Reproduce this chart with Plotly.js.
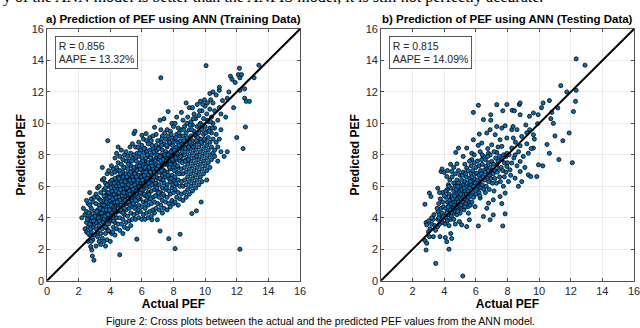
<!DOCTYPE html>
<html><head><meta charset="utf-8">
<script src="https://cdn.plot.ly/plotly-3.0.1.min.js"></script>
<style>html,body{margin:0;padding:0;background:#fff}#chart{width:640px;height:328px}</style>
</head><body><div id="chart"></div>
<script>
// Training data: [Actual PEF, Predicted PEF]
const trainData = [
[2.2,4.0],[2.3,4.6],[2.4,3.3],[2.4,4.2],[2.5,3.1],[2.5,3.7],[2.5,4.4],[2.6,2.5],[2.6,3.4],[2.6,4.0],[2.6,4.9],[2.7,5.6],[2.7,2.9],[2.7,3.6],[2.7,4.3],[2.76,2.17],[2.8,3.1],[2.8,3.8],[2.8,4.6],[2.8,5.2],[2.83,1.95],[2.87,1.57],[2.9,2.6],[2.9,3.4],[2.9,4.1],[2.9,5.0],[2.97,1.3],[3.0,2.9],[3.0,3.6],[3.0,4.4],[3.0,5.3],[2.6,3.0],[2.7,4.8],[2.8,2.5],[2.5,5.1],
[3.1,2.2],[3.1,3.3],[3.1,4.0],[3.1,4.9],[3.1,5.5],[3.2,2.8],[3.2,3.7],[3.2,4.5],[3.2,5.9],[3.2,3.1],[3.3,2.5],[3.3,3.5],[3.3,4.2],[3.3,5.2],[3.3,6.0],[3.4,3.0],[3.4,3.9],[3.4,4.7],[3.4,5.6],[3.4,2.3],[3.5,3.3],[3.5,4.1],[3.5,5.0],[3.5,6.4],[3.5,7.2],[3.5,2.7],[3.2,4.1],[3.3,4.8],[3.4,4.4],[3.1,3.7],[3.3,3.8],[3.5,4.6],[3.4,5.1],[3.2,5.3],
[3.6,2.5],[3.6,3.5],[3.6,4.3],[3.6,5.1],[3.6,5.8],[3.6,6.5],[3.7,3.0],[3.7,3.9],[3.7,4.7],[3.7,5.4],[3.7,6.2],[3.7,2.2],[3.8,3.3],[3.8,4.0],[3.8,4.9],[3.8,5.6],[3.8,6.8],[3.8,2.6],[3.9,3.6],[3.9,4.4],[3.9,5.2],[3.9,6.0],[3.9,7.0],[3.84,8.9],[4.0,3.1],[4.0,3.9],[4.0,4.6],[4.0,5.5],[4.0,6.3],[4.07,7.3],[3.6,4.8],[3.7,4.2],[3.8,4.5],[3.9,4.9],[4.0,5.1],[3.7,5.9],[3.8,5.2],[3.9,3.9],[3.6,3.9],[4.0,2.5],[3.8,6.1],[3.9,5.6],[3.7,3.4],[3.6,5.4],[4.0,4.2],[3.88,3.18],
[4.1,3.0],[4.1,3.8],[4.1,4.5],[4.1,5.3],[4.1,6.0],[4.1,6.8],[4.2,3.4],[4.2,4.2],[4.2,4.9],[4.2,5.7],[4.2,6.4],[4.2,7.1],[4.3,2.9],[4.3,3.7],[4.3,4.6],[4.3,5.4],[4.3,6.1],[4.3,6.9],[4.3,7.8],[4.4,3.3],[4.4,4.0],[4.4,4.8],[4.4,5.6],[4.4,6.3],[4.4,7.2],[4.4,8.1],[4.5,3.6],[4.5,4.4],[4.5,5.1],[4.5,5.9],[4.5,6.6],[4.5,7.5],[4.5,8.5],[4.1,4.9],[4.2,5.3],[4.3,5.0],[4.4,5.2],[4.5,4.8],[4.2,6.0],[4.3,4.2],[4.4,6.0],[4.1,5.7],[4.3,6.5],[4.5,5.5],[4.2,3.8],[4.4,4.4],[4.1,6.4],[4.16,3.1],[4.5,7.0],
[4.6,1.65],[4.6,3.2],[4.6,4.0],[4.6,4.8],[4.6,5.5],[4.6,6.3],[4.6,7.0],[4.6,7.9],[4.7,3.6],[4.7,4.4],[4.7,5.2],[4.7,5.9],[4.7,6.7],[4.7,7.4],[4.7,8.3],[4.8,3.0],[4.8,3.9],[4.8,4.7],[4.8,5.4],[4.8,6.2],[4.8,6.9],[4.8,7.7],[4.9,3.4],[4.9,4.2],[4.9,5.0],[4.9,5.7],[4.9,6.5],[4.9,7.2],[4.9,8.0],[5.0,3.7],[5.0,4.5],[5.0,5.3],[5.0,6.0],[5.0,6.8],[5.0,7.6],[5.0,8.2],[4.6,5.1],[4.7,4.8],[4.8,5.8],[4.9,5.4],[5.0,5.6],[4.6,6.0],[4.7,6.3],[4.8,4.3],[4.9,6.1],[5.0,4.9],[4.8,6.6],[4.7,5.6],[4.9,4.6],
[5.1,3.3],[5.1,4.1],[5.1,4.9],[5.1,5.6],[5.1,6.4],[5.1,7.1],[5.1,7.9],[5.2,3.8],[5.2,4.6],[5.2,5.3],[5.2,6.1],[5.2,6.8],[5.2,7.6],[5.25,8.5],[5.3,3.5],[5.3,4.3],[5.3,5.0],[5.3,5.8],[5.3,6.5],[5.3,7.3],[5.3,8.1],[5.4,3.9],[5.4,4.7],[5.4,5.5],[5.4,6.2],[5.4,7.0],[5.4,7.8],[5.4,8.7],[5.5,4.2],[5.5,5.0],[5.5,5.7],[5.5,6.5],[5.5,7.2],[5.5,8.0],[5.5,9.35],[5.57,9.5],[5.1,5.9],[5.2,5.7],[5.3,6.2],[5.4,5.9],[5.5,6.0],[5.2,6.5],[5.3,5.4],[5.4,6.6],[5.1,5.2],[5.5,5.4],[5.3,6.9],[5.2,4.9],[5.4,5.1],[5.5,6.8],
[5.6,3.9],[5.6,4.7],[5.6,5.4],[5.6,6.2],[5.6,6.9],[5.6,7.7],[5.6,8.5],[5.68,2.64],[5.7,4.3],[5.7,5.1],[5.7,5.8],[5.7,6.6],[5.7,7.3],[5.7,8.1],[5.76,8.47],[5.8,4.0],[5.8,4.8],[5.8,5.6],[5.8,6.3],[5.8,7.1],[5.8,7.9],[5.8,8.8],[5.9,4.4],[5.9,5.2],[5.9,6.0],[5.9,6.7],[5.9,7.5],[5.9,8.3],[6.0,9.24],[6.0,3.9],[6.0,4.7],[6.0,5.5],[6.0,6.3],[6.0,7.0],[6.0,7.8],[6.0,8.6],[5.6,5.9],[5.7,6.2],[5.8,6.0],[5.9,6.4],[6.0,6.0],[5.6,6.5],[5.7,5.5],[5.8,6.7],[5.9,5.6],[6.0,6.6],[5.8,5.2],[5.7,7.0],[5.6,5.1],[5.9,7.1],
[6.1,4.2],[6.1,5.0],[6.1,5.8],[6.1,6.5],[6.1,7.3],[6.1,8.1],[6.1,9.0],[6.2,3.9],[6.2,4.6],[6.2,5.4],[6.2,6.1],[6.2,6.9],[6.2,7.6],[6.2,8.4],[6.27,9.35],[6.3,4.3],[6.3,5.1],[6.3,5.9],[6.3,6.6],[6.3,7.4],[6.3,8.2],[6.3,8.9],[6.4,4.0],[6.4,4.8],[6.4,5.6],[6.4,6.3],[6.4,7.1],[6.4,7.9],[6.4,8.7],[6.5,4.4],[6.5,5.2],[6.5,6.0],[6.5,6.8],[6.5,7.5],[6.5,8.3],[6.5,9.1],[6.1,6.2],[6.2,6.5],[6.3,7.0],[6.4,6.7],[6.5,6.4],[6.1,6.9],[6.3,6.3],[6.4,7.5],[6.2,7.2],[6.5,7.1],[6.63,3.87],
[6.6,4.1],[6.6,4.9],[6.6,5.7],[6.6,6.4],[6.6,7.2],[6.6,8.0],[6.6,8.9],[6.7,4.5],[6.7,5.3],[6.7,6.1],[6.7,6.8],[6.7,7.6],[6.7,8.4],[6.7,9.2],[6.8,4.3],[6.8,5.0],[6.8,5.8],[6.8,6.6],[6.8,7.3],[6.8,8.1],[6.8,9.75],[6.9,4.6],[6.9,5.4],[6.9,6.2],[6.9,7.0],[6.9,7.8],[6.9,8.6],[6.98,3.87],[7.0,4.9],[7.0,5.7],[7.0,6.5],[7.0,7.2],[7.0,8.0],[7.0,8.9],[6.6,6.8],[6.7,7.1],[6.8,6.9],[6.9,7.4],[7.0,6.9],[6.7,6.4],[6.8,7.7],[6.9,6.6],[6.6,7.5],[6.9,9.3],
[7.1,4.5],[7.1,5.3],[7.1,6.1],[7.1,6.9],[7.1,7.7],[7.1,8.5],[7.15,10.2],[7.15,3.16],[7.2,4.8],[7.2,5.6],[7.2,6.4],[7.2,7.2],[7.2,8.0],[7.2,8.8],[7.2,12.9],[7.3,4.3],[7.3,5.1],[7.3,5.9],[7.3,6.7],[7.3,7.5],[7.3,8.3],[7.3,9.2],[7.4,4.6],[7.4,5.4],[7.4,6.2],[7.4,7.0],[7.4,7.8],[7.4,8.7],[7.4,10.3],[7.5,5.0],[7.5,5.8],[7.5,6.6],[7.5,7.4],[7.5,8.2],[7.5,9.0],[7.1,7.3],[7.2,7.6],[7.3,7.1],[7.4,7.4],[7.5,7.8],[7.2,9.6],
[7.6,4.5],[7.6,5.3],[7.6,6.1],[7.6,6.9],[7.6,7.7],[7.6,8.5],[7.6,9.6],[7.7,2.67],[7.7,4.9],[7.7,5.7],[7.7,6.5],[7.7,7.3],[7.7,8.1],[7.7,8.9],[7.66,10.75],[7.8,4.7],[7.8,5.5],[7.8,6.3],[7.8,7.1],[7.8,7.9],[7.8,8.7],[7.8,9.5],[7.9,5.1],[7.9,5.9],[7.9,6.7],[7.9,7.5],[7.9,8.3],[7.9,9.1],[7.9,10.0],[8.0,4.9],[8.0,5.6],[8.0,6.4],[8.0,7.2],[8.0,8.0],[8.0,8.8],[8.0,9.8],[7.7,7.6],[7.8,7.4],[7.9,7.9],[8.0,7.6],
[8.1,2.04],[8.1,5.0],[8.1,5.8],[8.1,6.6],[8.1,7.4],[8.1,8.2],[8.1,9.0],[8.1,10.0],[8.2,5.3],[8.2,6.1],[8.2,6.9],[8.2,7.7],[8.2,8.5],[8.2,9.3],[8.2,10.4],[8.3,4.8],[8.3,5.6],[8.3,6.4],[8.3,7.2],[8.3,8.0],[8.3,8.8],[8.3,9.7],[8.4,5.2],[8.4,6.0],[8.4,6.8],[8.4,7.6],[8.4,8.4],[8.4,9.2],[8.42,2.95],[8.5,5.5],[8.5,6.3],[8.5,7.1],[8.5,7.9],[8.5,8.7],[8.5,9.6],[8.5,10.7],
[8.6,5.1],[8.6,6.0],[8.6,6.8],[8.6,7.6],[8.6,8.4],[8.6,9.2],[8.6,10.2],[8.7,5.6],[8.7,6.4],[8.7,7.2],[8.7,8.0],[8.7,8.8],[8.7,9.8],[8.8,5.3],[8.8,6.1],[8.8,6.9],[8.8,7.7],[8.8,8.5],[8.8,9.4],[8.8,11.3],[8.9,5.8],[8.9,6.6],[8.9,7.4],[8.9,8.2],[8.9,9.0],[8.9,10.4],[9.0,5.5],[9.0,6.3],[9.0,7.1],[9.0,7.9],[9.0,8.7],[9.0,9.6],[9.0,11.0],
[9.1,6.0],[9.1,6.8],[9.1,7.6],[9.1,8.4],[9.1,9.2],[9.1,10.1],[9.16,4.27],[9.2,5.7],[9.2,6.5],[9.2,7.3],[9.2,8.1],[9.2,8.9],[9.2,9.9],[9.2,11.0],[9.3,6.2],[9.3,7.0],[9.3,7.8],[9.3,8.6],[9.3,9.5],[9.3,10.6],[9.4,5.9],[9.4,6.7],[9.4,7.5],[9.4,8.3],[9.4,9.2],[9.4,10.3],[9.45,4.44],[9.5,6.4],[9.5,7.2],[9.5,8.0],[9.5,8.8],[9.5,9.8],[9.5,11.2],
[9.6,6.1],[9.6,6.9],[9.6,7.7],[9.6,8.5],[9.6,9.4],[9.6,10.5],[9.7,6.6],[9.7,7.4],[9.7,8.2],[9.7,9.0],[9.7,10.0],[9.7,11.4],[9.75,5.0],[9.8,6.3],[9.8,7.1],[9.8,7.9],[9.8,8.7],[9.8,9.6],[9.8,10.8],[9.9,6.8],[9.9,7.6],[9.9,8.4],[9.9,9.3],[9.9,10.3],[9.96,11.5],[10.0,7.3],[10.0,8.1],[10.0,8.9],[10.0,9.8],[10.0,11.1],
[10.06,13.67],[10.1,6.4],[10.1,7.0],[10.1,7.8],[10.1,8.6],[10.1,9.5],[10.1,10.6],[10.2,7.5],[10.2,8.3],[10.2,9.1],[10.2,10.1],[10.3,11.9],[10.3,7.2],[10.3,8.0],[10.3,8.8],[10.3,9.7],[10.3,10.9],[10.4,7.7],[10.4,8.5],[10.4,9.4],[10.4,10.4],[10.5,12.0],[10.5,8.1],[10.5,9.0],[10.5,10.0],[10.5,11.3],
[10.6,7.9],[10.6,8.3],[10.6,9.7],[10.6,10.8],[10.7,8.8],[10.7,9.3],[10.7,11.8],[10.8,7.6],[10.8,8.5],[10.8,10.2],[10.9,9.0],[10.9,11.0],[10.9,12.1],[10.9,12.3],[11.0,8.2],[11.0,9.6],[11.0,10.6],
[11.1,11.45],[11.2,7.9],[11.3,10.4],[11.4,8.2],[11.4,11.6],[11.5,12.0],[11.6,13.0],[11.7,12.8],[11.8,11.0],[11.9,12.6],[12.0,9.1],[12.1,13.1],[12.17,13.5],[12.2,12.1],[12.2,12.9],[12.2,2.0],[12.3,13.1],[12.4,8.4],[12.5,11.6],[12.5,12.2],[12.55,9.77],[12.6,11.4],[12.8,11.4],[13.1,12.9],[13.4,13.7],
[2.55,3.9],[2.65,4.3],[2.75,3.3],[2.85,4.0],[2.95,3.8],[3.05,4.1],[3.15,4.4],[3.25,4.0],[3.35,4.6],[3.45,4.3],
[3.55,4.5],[3.65,4.1],[3.75,5.0],[3.85,4.2],[3.95,5.3],[3.55,3.7],[3.75,4.5],[3.95,4.5],
[4.05,4.8],[4.15,5.2],[4.25,4.5],[4.35,5.3],[4.45,5.8],[4.05,5.9],[4.15,4.1],[4.25,6.2],[4.35,4.4],[4.45,5.0],[4.25,5.5],[4.35,5.7],
[4.55,5.6],[4.65,4.5],[4.75,5.4],[4.85,5.0],[4.95,6.3],[4.55,6.5],[4.65,5.8],[4.75,6.1],[4.85,5.6],[4.95,5.1],[4.65,6.8],[4.85,7.2],
[5.05,5.9],[5.15,6.1],[5.25,5.5],[5.35,6.0],[5.45,5.8],[5.05,6.6],[5.15,5.0],[5.25,6.4],[5.35,5.3],[5.45,6.4],[5.15,7.4],[5.35,7.6],[5.25,4.8],[5.45,4.9],
[5.55,6.1],[5.65,5.7],[5.75,6.4],[5.85,5.9],[5.95,6.6],[5.55,6.8],[5.65,6.6],[5.75,5.3],[5.85,7.3],[5.95,5.8],[5.65,7.6],[5.85,8.1],[5.55,4.6],[5.75,4.5],
[6.05,6.4],[6.15,6.7],[6.25,6.9],[6.35,6.5],[6.45,7.2],[6.05,7.6],[6.15,5.5],[6.25,7.8],[6.35,5.4],[6.45,6.2],[6.15,8.4],[6.35,8.0],[6.25,4.9],[6.45,5.5],
[6.55,6.9],[6.65,7.3],[6.75,6.6],[6.85,7.6],[6.95,7.1],[6.55,7.8],[6.65,6.1],[6.75,8.2],[6.85,6.2],[6.95,8.3],[6.65,8.6],[6.85,5.4],[6.55,5.2],[6.95,5.9],
[7.05,7.3],[7.15,7.9],[7.25,7.0],[7.35,7.7],[7.45,8.0],[7.05,8.4],[7.15,6.5],[7.25,8.6],[7.35,6.4],[7.45,6.8],[7.25,9.0],[7.45,9.4],[7.05,5.6],[7.35,5.5],
[7.55,7.6],[7.65,8.0],[7.75,7.2],[7.85,8.2],[7.95,7.7],[7.55,8.6],[7.65,6.7],[7.75,8.8],[7.85,6.5],[7.95,8.6],[7.65,9.2],[7.85,9.3],[7.55,5.9],[7.95,6.1],
[8.05,8.3],[8.15,7.8],[8.25,8.1],[8.35,8.6],[8.45,7.9],[8.05,7.0],[8.15,9.1],[8.25,7.3],[8.35,9.4],[8.45,8.9],[8.15,6.2],[8.35,6.8],
[8.55,8.2],[8.65,8.9],[8.75,8.4],[8.85,9.1],[8.95,8.5],[8.55,7.5],[8.65,9.6],[8.75,7.6],[8.85,10.0],[8.95,7.7],
[9.05,8.8],[9.15,9.6],[9.25,8.5],[9.35,9.3],[9.45,8.9],[9.05,9.9],[9.25,10.3],[9.45,7.9],
[9.55,9.1],[9.65,9.9],[9.75,8.8],[9.85,9.9],[9.95,9.0],[9.65,10.8],[9.85,11.2],
[10.05,9.4],[10.15,10.2],[10.25,9.5],[10.35,10.1],[10.45,9.7],[10.15,11.3],[10.35,11.5]
];

// Testing data: [Actual PEF, Predicted PEF]
const testData = [
[2.78,4.86],[3.06,5.57],[3.16,5.35],[2.85,3.7],[3.02,3.8],[2.89,3.55],[2.78,2.55],[2.85,1.95],[2.89,2.38],[3.06,2.8],[3.31,2.8],[3.46,1.1],[3.1,3.3],[3.2,3.6],[3.3,3.9],[3.4,3.5],[3.0,3.1],[3.35,4.2],[3.45,3.2],[3.2,4.0],
[3.59,3.44],[3.73,2.8],[3.6,3.9],[3.6,4.4],[3.65,4.9],[3.7,3.6],[3.7,4.2],[3.75,5.2],[3.8,3.9],[3.8,4.6],[3.8,6.94],[3.85,4.3],[3.9,3.7],[3.9,5.0],[3.9,5.6],[3.59,5.88],[3.95,4.1],[3.95,4.7],[3.99,6.88],[3.86,7.1],[3.7,5.6],[3.65,4.0],[3.55,4.6],
[4.07,2.74],[4.16,2.48],[4.3,2.0],[4.41,3.0],[4.47,2.68],[4.05,3.6],[4.1,4.0],[4.1,4.6],[4.1,5.3],[4.16,6.62],[4.2,3.8],[4.2,4.4],[4.2,5.0],[4.2,5.8],[4.26,6.1],[4.3,3.5],[4.3,4.2],[4.3,4.8],[4.3,5.5],[4.35,6.4],[4.4,3.9],[4.4,4.5],[4.4,5.2],[4.4,5.9],[4.45,4.1],[4.47,6.94],[4.5,4.7],[4.5,5.4],[4.5,6.6],[4.15,4.3],[4.25,4.7],[4.35,5.1],[4.45,4.9],[4.1,5.7],[4.3,6.0],[4.2,7.0],[4.4,7.4],[4.0,5.4],
[4.58,4.61],[4.6,3.9],[4.6,4.3],[4.6,5.0],[4.6,5.7],[4.6,6.2],[4.65,4.8],[4.7,3.6],[4.7,4.4],[4.7,5.3],[4.7,6.0],[4.73,8.15],[4.75,5.0],[4.8,4.2],[4.8,4.7],[4.8,5.5],[4.8,6.4],[4.8,7.43],[4.85,5.2],[4.9,4.5],[4.9,5.0],[4.9,5.8],[4.9,6.2],[4.9,8.43],[4.96,3.76],[4.95,4.8],[5.0,4.29],[5.0,5.3],[5.0,6.0],[5.0,6.7],[4.65,5.4],[4.75,5.8],[4.85,6.0],[4.95,5.6],[4.55,5.2],[4.7,6.8],[4.6,7.2],[4.85,4.4],[4.9,7.0],
[5.1,3.55],[5.17,0.3],[5.2,7.9],[5.42,3.44],[5.42,7.16],[5.42,8.43],[5.05,4.8],[5.1,5.2],[5.1,5.8],[5.1,6.4],[5.15,4.6],[5.2,5.0],[5.2,5.5],[5.2,6.1],[5.2,6.9],[5.25,4.5],[5.3,5.2],[5.3,5.7],[5.3,6.3],[5.3,7.4],[5.35,4.9],[5.4,5.5],[5.4,6.0],[5.4,6.6],[5.45,5.1],[5.5,4.7],[5.5,5.7],[5.5,6.2],[5.5,7.0],[5.15,6.7],[5.25,5.9],[5.35,6.8],[5.45,6.2],[5.05,5.5],[5.3,4.7],
[5.53,4.29],[5.59,3.87],[5.74,8.1],[5.74,7.7],[5.84,10.7],[5.84,8.96],[5.95,4.71],[5.55,5.3],[5.6,5.0],[5.6,5.9],[5.6,6.5],[5.65,4.8],[5.7,5.4],[5.7,6.1],[5.7,6.8],[5.7,7.3],[5.75,5.0],[5.8,5.6],[5.8,6.3],[5.8,7.0],[5.85,5.3],[5.9,5.9],[5.9,6.5],[5.9,7.5],[5.95,6.2],[6.0,5.5],[6.0,6.8],[6.0,7.2],[5.65,6.3],[5.75,6.6],[5.85,6.0],[5.6,7.6],[5.9,8.0],
[6.06,6.84],[6.16,11.15],[6.16,3.48],[6.22,9.32],[6.27,5.25],[6.27,8.2],[6.37,8.75],[6.37,7.7],[6.48,10.24],[6.48,4.08],[6.05,5.8],[6.1,6.4],[6.1,7.6],[6.15,6.0],[6.2,5.6],[6.2,6.7],[6.2,7.3],[6.25,6.2],[6.3,5.9],[6.3,6.5],[6.3,7.0],[6.35,6.8],[6.4,6.1],[6.4,7.4],[6.45,6.6],[6.5,5.8],[6.5,7.0],[6.5,7.9],[6.15,8.6],[6.4,8.0],[6.25,5.4],
[6.63,7.26],[6.69,9.39],[6.69,4.6],[6.8,8.1],[6.8,4.93],[6.9,9.6],[6.9,3.87],[6.94,10.55],[6.94,10.2],[6.55,6.4],[6.6,6.9],[6.6,7.7],[6.65,6.0],[6.7,6.6],[6.7,7.1],[6.75,8.4],[6.8,6.3],[6.8,7.0],[6.8,7.5],[6.85,6.7],[6.9,7.2],[6.9,8.0],[6.95,6.5],[7.0,7.0],[7.0,7.58],[7.0,8.64],[6.6,5.6],[6.85,5.8],[6.75,7.9],
[7.1,4.18],[7.1,5.14],[7.22,9.28],[7.32,11.19],[7.32,9.8],[7.32,8.15],[7.32,7.37],[7.05,6.2],[7.1,6.8],[7.1,7.4],[7.15,8.2],[7.2,6.5],[7.2,7.0],[7.25,7.8],[7.3,6.2],[7.35,6.9],[7.4,7.6],[7.4,8.5],[7.45,7.1],[7.5,6.6],[7.5,7.9],[7.53,5.35],[7.53,8.96],[7.15,5.7],
[7.64,9.7],[7.64,8.54],[7.64,7.7],[7.64,4.9],[7.7,3.48],[7.7,10.8],[7.74,6.0],[7.85,9.85],[7.85,5.57],[7.85,4.25],[7.96,11.2],[7.96,9.07],[7.96,8.1],[7.96,7.26],[7.6,7.2],[7.7,7.0],[7.75,8.0],[7.8,7.5],[7.8,6.6],[7.9,7.9],[7.9,6.9],[8.0,7.5],[7.55,6.3],
[8.06,6.3],[8.16,7.05],[8.27,9.6],[8.27,8.43],[8.27,7.48],[8.3,10.83],[8.37,9.07],[8.44,10.8],[8.48,8.0],[8.48,6.52],[8.6,9.6],[8.69,6.0],[8.75,11.2],[8.8,11.3],[8.8,10.55],[8.8,8.58],[8.8,7.58],[8.8,6.94],[8.9,9.17],[8.9,6.3],[8.1,8.0],[8.2,6.7],[8.4,7.8],[8.5,8.8],[8.6,7.3],[8.7,8.2],[8.35,9.8],
[9.0,7.9],[9.16,9.9],[9.22,9.4],[9.22,8.7],[9.32,8.1],[9.32,6.73],[9.39,10.45],[9.47,6.62],[9.64,10.66],[9.64,9.28],[9.64,8.43],[9.85,6.62],[9.9,9.98],[9.94,10.55],[9.96,7.37],[9.5,8.4],[9.1,7.2],[9.7,9.0],[9.4,9.6],
[10.15,11.0],[10.23,7.3],[10.25,11.3],[10.5,8.66],[10.65,11.45],[10.65,8.1],[10.74,10.3],[10.8,10.7],[10.9,10.0],[11.0,9.2],[11.18,10.98],[11.25,7.7],[11.37,12.4],[11.5,8.9],[11.75,12.0],[11.9,9.39],[12.1,7.5],[12.17,10.75],[12.3,11.4],[12.34,12.1],[12.34,14.1],[12.9,13.7]
];

const trainActual = trainData.map(p => p[0]);
const trainPred   = trainData.map(p => p[1]);
const testActual  = testData.map(p => p[0]);
const testPred    = testData.map(p => p[1]);

const diagonal  = [0, 16];
const tickVals  = [0, 2, 4, 6, 8, 10, 12, 14, 16];
const panelTitles = ['a) Prediction of PEF using ANN (Training Data)', 'b) Prediction of PEF using ANN (Testing Data)'];
const statR     = ['0.856', '0.815'];
const statAAPE  = ['13.32%', '14.09%'];
const xTitle = 'Actual PEF';
const yTitle = 'Predicted PEF';
const caption = 'Figure 2: Cross plots between the actual and the predicted PEF values from the ANN model.';
const topLine = 'y of the ANN model is better than the ANFIS model, it is still not perfectly accurate.';

const FONT = 'Liberation Sans, Arial, Helvetica, sans-serif';
const INK = '#262626';

function scatterTrace(x, y, xa, ya) {
  return { x, y, xaxis: xa, yaxis: ya, type: 'scatter', mode: 'markers',
    marker: { size: 4.1, color: '#0072BD', line: { color: '#000000', width: 0.8 } },
    hoverinfo: 'skip', showlegend: false };
}
function lineTrace(xa, ya) {
  return { x: diagonal, y: diagonal, xaxis: xa, yaxis: ya, type: 'scatter', mode: 'lines',
    line: { color: '#000000', width: 2 }, hoverinfo: 'skip', showlegend: false };
}
function axis(domain, anchor, title, standoff) {
  return { domain, anchor, range: [0, 16], tickvals: tickVals, ticktext: tickVals.map(String),
    ticks: 'inside', ticklen: 3, tickwidth: 0.8, tickcolor: INK, ticklabeloverflow: 'allow',
    showline: true, linecolor: INK, linewidth: 0.8, mirror: 'ticks',
    showgrid: true, gridcolor: '#e6e6e6', gridwidth: 0.8, zeroline: false,
    tickfont: { family: FONT, size: 11, color: INK },
    title: { text: '<b>' + title + '</b>', font: { family: FONT, size: 12, color: '#000' }, standoff },
    fixedrange: true };
}

const yDom = [1 - 280.7 / 328, 1 - 29 / 328];
const xDomA = [47 / 640, 300 / 640];
const xDomB = [381 / 640, 634 / 640];

const data = [
  scatterTrace(trainActual, trainPred, 'x', 'y'),
  lineTrace('x', 'y'),
  scatterTrace(testActual, testPred, 'x2', 'y2'),
  lineTrace('x2', 'y2')
];

function statBox(xpx, i) {
  return { xref: 'paper', yref: 'paper', x: xpx / 640, y: 1 - 36 / 328, xanchor: 'left', yanchor: 'top',
    text: 'R = ' + statR[i] + '<br>AAPE = ' + statAAPE[i], align: 'left', showarrow: false,
    font: { family: FONT, size: 10.5, color: INK }, bgcolor: '#ffffff', bordercolor: '#333333',
    borderwidth: 0.8, borderpad: 3 };
}

const layout = {
  width: 640, height: 328, margin: { l: 0, r: 0, t: 0, b: 0 },
  paper_bgcolor: '#ffffff', plot_bgcolor: '#ffffff', showlegend: false,
  xaxis: axis(xDomA, 'y', xTitle, 3),
  yaxis: axis(yDom, 'x', yTitle, 3),
  xaxis2: axis(xDomB, 'y2', xTitle, 3),
  yaxis2: axis(yDom, 'x2', yTitle, 3),
  annotations: [
    { xref: 'paper', yref: 'paper', x: 173.5 / 640, y: 1 - 19 / 328, xanchor: 'center', yanchor: 'middle',
      text: '<b>' + panelTitles[0] + '</b>', showarrow: false, font: { family: FONT, size: 11.5, color: '#000' } },
    { xref: 'paper', yref: 'paper', x: 507.5 / 640, y: 1 - 19 / 328, xanchor: 'center', yanchor: 'middle',
      text: '<b>' + panelTitles[1] + '</b>', showarrow: false, font: { family: FONT, size: 11.5, color: '#000' } },
    statBox(55, 0),
    statBox(389, 1),
    { xref: 'paper', yref: 'paper', x: 0.5, y: 1 - 321 / 328, xanchor: 'center', yanchor: 'middle',
      text: caption, showarrow: false, font: { family: FONT, size: 10.5, color: '#000' } },
    { xref: 'paper', yref: 'paper', x: 1 / 640, y: 1 - 8 / 328, xanchor: 'left', yanchor: 'bottom',
      text: topLine, showarrow: false, font: { family: 'Liberation Serif, Times New Roman, serif', size: 16, color: '#000' } }
  ]
};

Plotly.newPlot('chart', data, layout, { staticPlot: true, displayModeBar: false });
</script>
</body></html>
